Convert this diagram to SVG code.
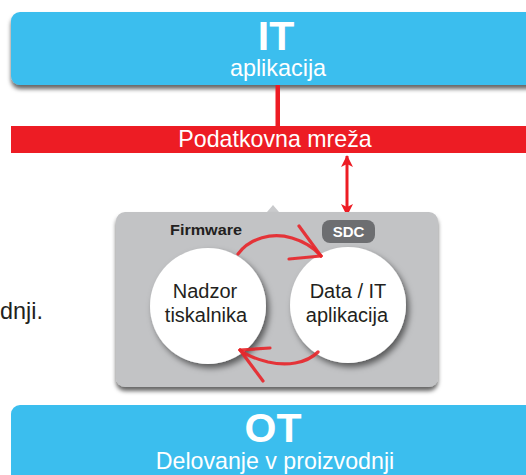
<svg xmlns="http://www.w3.org/2000/svg" width="526" height="475" viewBox="0 0 526 475">
  <defs>
    <filter id="boxShadow" x="-10%" y="-20%" width="120%" height="160%">
      <feDropShadow dx="0" dy="4" stdDeviation="2" flood-color="#000" flood-opacity="0.6"/>
    </filter>
    <filter id="circleShadow" x="-30%" y="-30%" width="160%" height="160%">
      <feDropShadow dx="3" dy="4" stdDeviation="3" flood-color="#000" flood-opacity="0.55"/>
    </filter>
    <filter id="soft" x="-20%" y="-20%" width="140%" height="140%">
      <feGaussianBlur stdDeviation="0.4"/>
    </filter>
    <marker id="arrowRed" markerWidth="12" markerHeight="12" refX="11" refY="6" orient="auto-start-reverse" markerUnits="userSpaceOnUse">
      <path d="M0,0 L12,6 L0,12 L3,6 Z" fill="#ED1C24"/>
    </marker>
    <style>
      .sans { font-family: "Liberation Sans", Arial, sans-serif; }
      .white { fill: #ffffff; }
      .dark { fill: #231F20; }
      .blue { fill: #3BBEEE; }
      .red { fill: #ED1C24; }
      .brush { fill: none; stroke: #E8262A; stroke-width: 3.2; stroke-linecap: round; stroke-linejoin: round; opacity: 0.9; }
    </style>
  </defs>

  <rect width="526" height="475" fill="#ffffff"/>

  <!-- cropped text at left -->
  <text class="sans dark" x="43" y="319" font-size="23.4" text-anchor="end">dnji.</text>

  <!-- IT node -->
  <g id="it-node">
    <rect class="blue" x="11" y="12" width="530" height="73" rx="9" filter="url(#boxShadow)"/>
    <text class="sans white" x="276" y="50" font-size="41" font-weight="bold" text-anchor="middle">IT</text>
    <text class="sans white" x="278" y="76" font-size="23.4" text-anchor="middle">aplikacija</text>
  </g>

  <!-- connectors -->
  <g id="connectors">
    <rect class="red" x="275.5" y="85" width="4.5" height="42"/>
    <line x1="347" y1="156" x2="347" y2="215" stroke="#ED1C24" stroke-width="3" marker-start="url(#arrowRed)" marker-end="url(#arrowRed)"/>
  </g>

  <!-- Network bar -->
  <g id="network">
    <rect class="red" x="11" y="126" width="530" height="27"/>
    <text class="sans white" x="275" y="147" font-size="23.2" text-anchor="middle">Podatkovna mreža</text>
  </g>

  <!-- Firmware box -->
  <g id="firmware">
    <path d="M267,212 L273,205 L279,212 Z" fill="#C9CACC"/>
    <rect x="116" y="212" width="322" height="175" rx="9" fill="#C2C3C5" filter="url(#boxShadow)"/>
    <text class="sans" x="170" y="235" font-size="15" font-weight="bold" fill="#231F20" textLength="72" lengthAdjust="spacingAndGlyphs">Firmware</text>
  </g>

  <!-- SDC pill -->
  <g id="sdc">
    <rect x="322" y="220" width="53" height="23" rx="8" fill="#6D6E71"/>
    <text class="sans white" x="348.5" y="237" font-size="15" font-weight="bold" text-anchor="middle">SDC</text>
  </g>

  <!-- Circle: Nadzor tiskalnika -->
  <g id="nadzor">
    <circle cx="208" cy="306" r="58" fill="#ffffff" filter="url(#circleShadow)"/>
    <text class="sans dark" x="205" y="298" font-size="20" text-anchor="middle">Nadzor</text>
    <text class="sans dark" x="206" y="322" font-size="20" text-anchor="middle">tiskalnika</text>
  </g>

  <!-- Circle: Data / IT aplikacija -->
  <g id="data-it">
    <circle cx="348" cy="305" r="58" fill="#ffffff" filter="url(#circleShadow)"/>
    <text class="sans dark" x="348" y="298" font-size="20" text-anchor="middle">Data / IT</text>
    <text class="sans dark" x="347" y="322" font-size="20" text-anchor="middle">aplikacija</text>
  </g>

  <!-- brush-style cycle arrows -->
  <g id="cycle-arrows" filter="url(#soft)">
    <path class="brush" d="M238,254 C250,238 272,232 292,238 C306,242 314,248 321,256"/>
    <path class="brush" d="M321,256 L299,226"/>
    <path class="brush" d="M321,256 L289,259"/>
    <path class="brush" d="M318,352 C306,364 286,366 268,362 C256,359 246,355 240,350"/>
    <path class="brush" d="M240,350 L270,348"/>
    <path class="brush" d="M240,350 L263,381"/>
  </g>

  <!-- OT node -->
  <g id="ot-node">
    <rect class="blue" x="11" y="405" width="530" height="80" rx="9"/>
    <text class="sans white" x="273" y="442" font-size="41" font-weight="bold" text-anchor="middle">OT</text>
    <text class="sans white" x="275" y="469" font-size="23.2" text-anchor="middle">Delovanje v proizvodnji</text>
  </g>
</svg>
